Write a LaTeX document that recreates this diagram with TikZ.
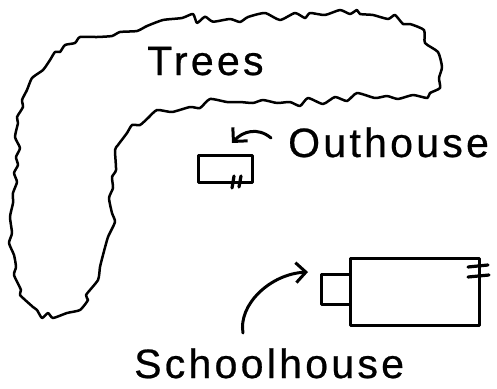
\documentclass[tikz,border=0pt]{standalone}
\usepackage{fontspec}
\setmainfont{Liberation Sans}[LetterSpace=8,FakeBold=0.6]
\usetikzlibrary{arrows.meta}
\tikzset{
 labeltext/.style={inner sep=0pt,anchor=base west,font=\fontsize{41}{41}\selectfont,text=black},
 ink/.style={draw=black,line width=2.5pt,line join=round,line cap=round},
 pointer/.style={ink,line width=3pt,-{Straight Barb[length=10pt,width=20pt,line width=3pt]}},
 building/.style={ink,line width=2.7pt,inner sep=0pt,anchor=north west,fill=white},
 tick/.style={ink,line width=3.2pt}
}
\begin{document}
\begin{tikzpicture}[x=1pt,y=-1pt]
\useasboundingbox (0,0) rectangle (497,388);
\draw[ink] plot[smooth cycle,tension=0.35] coordinates {
(230,19)(213,21.7)(205,16.7)(197,23)(193,14)(182,18)(163,20)(147,26)(137,31)(120,32)(112,36)(97,37)(80,37)(75,43)(65,45)(60,52)(55,52)(50,60)(43,70)(32,78)(27,90)(22,100)(23,107)(17,117)(18,123)(15,137)(20,148)(16,157)(18,165)(14,173)(17,182)(13,193)(13,203)(10,217)(12,233)(9,243)(14,255)(16,267)(14,275)(21,290)(20,295)(33,307)(37,310)(42,318)(48,313)(53,318)(67,313)(80,310)(88,300)(86,295)(98,280)(100,267)(103,255)(108,237)(115,222)(112,213)(109,198)(113,188)(112,177)(116,170)(115,150)(118,145)(127,133)(132,125)(140,125)(148,118)(157,110)(172,112)(190,107)(200,108)(210,99)(227,102)(240,102)(253,103)(263,100)(277,103)(290,102)(300,106)(308,98)(323,104)(335,97)(347,101)(357,93)(375,98)(387,96)(398,99)(413,95)(427,98)(430,93)(440,88)(439,78)(442,67)(438,52)(425,43)(424,30)(410,24)(403,24)(395,15)(388,19)(373,15)(360,14)(357,10)(350,14)(340,10)(325,15)(310,13)(305,18)(295,13)(280,20)(265,13)(248,17)(240,22)};
\node[building,minimum width=54pt,minimum height=27pt] (oh) at (197,154) {};
\node[building,minimum width=40pt,minimum height=30pt] (porch) at (320,273) {};
\node[building,minimum width=129pt,minimum height=67pt] (sh) at (349,257) {};
\coordinate (t1a) at (234,176); \coordinate (t1b) at (232,188);
\coordinate (t2a) at (241,176); \coordinate (t2b) at (239,187);
\coordinate (t3a) at (468,267); \coordinate (t3b) at (488,265);
\coordinate (t4a) at (468,277); \coordinate (t4b) at (489,275);
\draw[tick] (t1a)--(t1b); \draw[tick] (t2a)--(t2b); \draw[tick] (t3a)--(t3b); \draw[tick] (t4a)--(t4b);
\coordinate (a1s) at (271,138); \coordinate (a1e) at (232,143);
\draw[pointer] (a1s) .. controls (258,127) and (243,131) .. (a1e);
\coordinate (a2s) at (243,333); \coordinate (a2e) at (308,272);
\draw[pointer] (a2s) .. controls (238,305) and (270,274) .. (a2e);
\node[labeltext] (trees) at (147,75) {Trees};
\node[labeltext] (outhouse) at (288,157) {Outhouse};
\node[labeltext] (school) at (134,378) {Schoolhouse};
\end{tikzpicture}
\end{document}
